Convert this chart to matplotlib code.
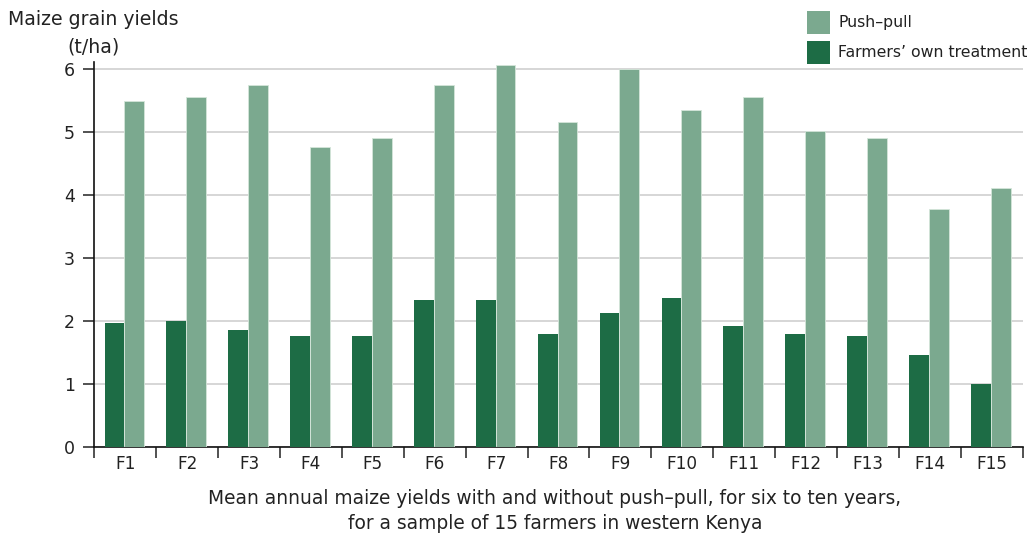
import matplotlib
matplotlib.use("Agg")
import matplotlib.pyplot as plt
import numpy as np
from matplotlib.patches import Patch

farmers = ["F1", "F2", "F3", "F4", "F5", "F6", "F7", "F8", "F9", "F10",
           "F11", "F12", "F13", "F14", "F15"]
push_pull = [5.49, 5.55, 5.74, 4.76, 4.90, 5.74, 6.06, 5.16, 6.00, 5.35,
             5.55, 5.01, 4.90, 3.78, 4.10]
own_treatment = [1.96, 2.00, 1.86, 1.75, 1.75, 2.33, 2.33, 1.79, 2.12, 2.36,
                 1.92, 1.79, 1.75, 1.45, 1.00]
y_ticks = [0, 1, 2, 3, 4, 5, 6]

plt.rcParams['font.family'] = ['DejaVu Sans']
TXT = '#222222'
C_PP = '#7BA98F'
C_OWN = '#1D6C45'

fig = plt.figure(figsize=(10.35, 5.37), dpi=100)
ax = fig.add_axes([0.0911, 0.1682, 0.8970, 0.7156])

x = np.arange(len(farmers))
w = 0.32
ax.bar(x - w / 2 - 0.015, own_treatment, w, color=C_OWN, zorder=3,
       label="Farmers\u2019 own treatment")
ax.bar(x + w / 2 - 0.015, push_pull, w, color=C_PP, zorder=3,
       edgecolor='#D5E6DA', linewidth=0.6, label="Push\u2013pull")

ax.set_xlim(-0.5, len(farmers) - 0.5)
ax.set_ylim(0, 6.1)
ax.set_yticks(y_ticks)
ax.set_yticklabels([str(v) for v in y_ticks], fontsize=12.5, color=TXT)
ax.yaxis.grid(True, color='#CBCBCB', linewidth=1.1, zorder=0)
ax.set_axisbelow(True)

ax.set_xticks(x)
ax.set_xticklabels(farmers, fontsize=12.2, color=TXT)
ax.set_xticks(np.arange(len(farmers) + 1) - 0.5, minor=True)
ax.tick_params(axis='x', which='major', length=0, pad=6)
ax.tick_params(axis='x', which='minor', length=8, width=1.1, direction='out', color='#222222')
ax.tick_params(axis='y', which='major', length=8, width=1.1, direction='out', pad=6, color='#222222')

for s in ['top', 'right']:
    ax.spines[s].set_visible(False)
for s in ['left', 'bottom']:
    ax.spines[s].set_color('#111111')
    ax.spines[s].set_linewidth(1.2)

fig.text(0.008, 0.963, "Maize grain yields", fontsize=13.6, color=TXT, ha='left', va='center')
fig.text(0.090, 0.912, "(t/ha)", fontsize=13.6, color=TXT, ha='center', va='center')

handles = [Patch(facecolor=C_PP, label="Push\u2013pull"),
           Patch(facecolor=C_OWN, label="Farmers\u2019 own treatment")]
leg = fig.legend(handles=handles, loc='upper left', bbox_to_anchor=(0.7736, 0.992),
                 frameon=False, fontsize=11.3, handlelength=1.47, handleheight=1.88,
                 handletextpad=0.51, labelspacing=0.45, borderaxespad=0)
for t in leg.get_texts():
    t.set_color(TXT)

fig.text(0.536, 0.071, "Mean annual maize yields with and without push\u2013pull, for six to ten years,",
         fontsize=13.4, color=TXT, ha='center', va='center')
fig.text(0.536, 0.026, "for a sample of 15 farmers in western Kenya",
         fontsize=13.4, color=TXT, ha='center', va='center')

fig.savefig("out.png", dpi=100)
